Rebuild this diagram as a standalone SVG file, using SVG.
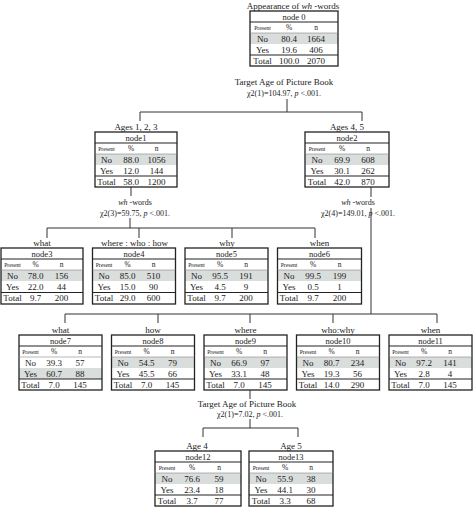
<svg xmlns="http://www.w3.org/2000/svg" width="474" height="507" viewBox="0 0 474 507">
<style>
text{font-family:"Liberation Serif","Times New Roman",serif;fill:#1a1a1a;text-anchor:middle}
.box{fill:none;stroke:#222;stroke-width:1.3}
.shade{fill:#d9dddc}
.dl{stroke:#222;stroke-width:1.1}
.tl{stroke:#888;stroke-width:0.6}
.nm{font-size:8.5px}
.pr{font-size:5.7px}
.hd{font-size:7.5px}
.v{font-size:9px}
.lb{font-size:9px}
.t9{font-size:9px}
.cs{font-size:8px}
.c{stroke:#333;stroke-width:1;fill:none}
</style>
<rect width="474" height="507" fill="#fff"/>

<g id="connectors">
<path class="c" d="M287 99V112M140 121V112H362V121"/>
<path class="c" d="M131 187V196M130 218V228M47 238V228H315V238M139 228V238M232 228V238"/>
<path class="c" d="M371 187V197M371 208V314M65 323V314H437V323M158 314V323M250 314V323M333 314V323"/>
<path class="c" d="M250 390V399M250 419V428M203 437V428H298V437"/>
<text class="t9" x="284" y="85">Target Age of Picture Book</text>
<text class="cs" x="284" y="96">χ2(1)=104.97, <tspan font-style="italic">p</tspan> &lt;.001.</text>
<text class="cs" x="135" y="205"><tspan font-style="italic">wh</tspan> -words</text>
<text class="cs" x="135" y="215.5">χ2(3)=59.75, <tspan font-style="italic">p</tspan> &lt;.001.</text>
<text class="cs" x="358" y="205"><tspan font-style="italic">wh</tspan> -words</text>
<text class="cs" x="358" y="215.5">χ2(4)=149.01, <tspan font-style="italic">p</tspan> &lt;.001.</text>
<text class="t9" x="247" y="407">Target Age of Picture Book</text>
<text class="cs" x="250" y="417">χ2(1)=7.02, <tspan font-style="italic">p</tspan> &lt;.001.</text>
</g>

<g id="node0" transform="translate(250,11)">
<text class="t9" x="43" y="-2.5">Appearance of <tspan font-style="italic">wh</tspan> -words</text>
<rect class="shade" x="0" y="22" width="88" height="11"/>
<rect class="box" x="0" y="0" width="88" height="55"/>
<line class="dl" x1="0" y1="11" x2="88" y2="11"/><line class="tl" x1="0" y1="22" x2="88" y2="22"/><line class="dl" x1="0" y1="44" x2="88" y2="44"/>
<text class="nm" x="44" y="8.5">node 0</text>
<text class="pr" x="12.5" y="19">Present</text><text class="hd" x="39" y="19">%</text><text class="hd" x="66" y="19">n</text>
<text class="v" x="12.5" y="30.8">No</text><text class="v" x="39" y="30.8">80.4</text><text class="v" x="66" y="30.8">1664</text>
<text class="v" x="12.5" y="41.8">Yes</text><text class="v" x="39" y="41.8">19.6</text><text class="v" x="66" y="41.8">406</text>
<text class="v" x="12.5" y="52.8">Total</text><text class="v" x="39" y="52.8">100.0</text><text class="v" x="66" y="52.8">2070</text>
</g>

<g id="node1" transform="translate(95,132)">
<text class="lb" x="41" y="-2">Ages 1, 2, 3</text>
<rect class="shade" x="0" y="22" width="82" height="11"/>
<rect class="box" x="0" y="0" width="82" height="55"/>
<line class="dl" x1="0" y1="11" x2="82" y2="11"/><line class="tl" x1="0" y1="22" x2="82" y2="22"/><line class="dl" x1="0" y1="44" x2="82" y2="44"/>
<text class="nm" x="41" y="8.5">node1</text>
<text class="pr" x="11.5" y="19">Present</text><text class="hd" x="36" y="19">%</text><text class="hd" x="61.5" y="19">n</text>
<text class="v" x="11.5" y="30.8">No</text><text class="v" x="36" y="30.8">88.0</text><text class="v" x="61.5" y="30.8">1056</text>
<text class="v" x="11.5" y="41.8">Yes</text><text class="v" x="36" y="41.8">12.0</text><text class="v" x="61.5" y="41.8">144</text>
<text class="v" x="11.5" y="52.8">Total</text><text class="v" x="36" y="52.8">58.0</text><text class="v" x="61.5" y="52.8">1200</text>
</g>

<g id="node2" transform="translate(305,132)">
<text class="lb" x="42" y="-2">Ages 4, 5</text>
<rect class="shade" x="0" y="22" width="84" height="11"/>
<rect class="box" x="0" y="0" width="84" height="55"/>
<line class="dl" x1="0" y1="11" x2="84" y2="11"/><line class="tl" x1="0" y1="22" x2="84" y2="22"/><line class="dl" x1="0" y1="44" x2="84" y2="44"/>
<text class="nm" x="42" y="8.5">node2</text>
<text class="pr" x="12" y="19">Present</text><text class="hd" x="37" y="19">%</text><text class="hd" x="63" y="19">n</text>
<text class="v" x="12" y="30.8">No</text><text class="v" x="37" y="30.8">69.9</text><text class="v" x="63" y="30.8">608</text>
<text class="v" x="12" y="41.8">Yes</text><text class="v" x="37" y="41.8">30.1</text><text class="v" x="63" y="41.8">262</text>
<text class="v" x="12" y="52.8">Total</text><text class="v" x="37" y="52.8">42.0</text><text class="v" x="63" y="52.8">870</text>
</g>

<g id="node3" transform="translate(1,248)">
<text class="lb" x="41" y="-2">what</text>
<rect class="shade" x="0" y="22" width="82" height="11"/>
<rect class="box" x="0" y="0" width="82" height="56"/>
<line class="dl" x1="0" y1="11" x2="82" y2="11"/><line class="tl" x1="0" y1="22" x2="82" y2="22"/><line class="dl" x1="0" y1="44.5" x2="82" y2="44.5"/>
<text class="nm" x="41" y="8.5">node3</text>
<text class="pr" x="11.5" y="19">Present</text><text class="hd" x="34.5" y="19">%</text><text class="hd" x="60.5" y="19">n</text>
<text class="v" x="11.5" y="30.8">No</text><text class="v" x="34.5" y="30.8">78.0</text><text class="v" x="60.5" y="30.8">156</text>
<text class="v" x="11.5" y="41.8">Yes</text><text class="v" x="34.5" y="41.8">22.0</text><text class="v" x="60.5" y="41.8">44</text>
<text class="v" x="11.5" y="53.3">Total</text><text class="v" x="34.5" y="53.3">9.7</text><text class="v" x="60.5" y="53.3">200</text>
</g>

<g id="node4" transform="translate(92.5,248)">
<text class="lb" x="42" y="-2">where : who : how</text>
<rect class="shade" x="0" y="22" width="83" height="11"/>
<rect class="box" x="0" y="0" width="83" height="56"/>
<line class="dl" x1="0" y1="11" x2="83" y2="11"/><line class="tl" x1="0" y1="22" x2="83" y2="22"/><line class="dl" x1="0" y1="44.5" x2="83" y2="44.5"/>
<text class="nm" x="41.5" y="8.5">node4</text>
<text class="pr" x="11.5" y="19">Present</text><text class="hd" x="35" y="19">%</text><text class="hd" x="61" y="19">n</text>
<text class="v" x="11.5" y="30.8">No</text><text class="v" x="35" y="30.8">85.0</text><text class="v" x="61" y="30.8">510</text>
<text class="v" x="11.5" y="41.8">Yes</text><text class="v" x="35" y="41.8">15.0</text><text class="v" x="61" y="41.8">90</text>
<text class="v" x="11.5" y="53.3">Total</text><text class="v" x="35" y="53.3">29.0</text><text class="v" x="61" y="53.3">600</text>
</g>

<g id="node5" transform="translate(185,248)">
<text class="lb" x="42" y="-2">why</text>
<rect class="shade" x="0" y="22" width="83" height="11"/>
<rect class="box" x="0" y="0" width="83" height="56"/>
<line class="dl" x1="0" y1="11" x2="83" y2="11"/><line class="tl" x1="0" y1="22" x2="83" y2="22"/><line class="dl" x1="0" y1="44.5" x2="83" y2="44.5"/>
<text class="nm" x="41.5" y="8.5">node5</text>
<text class="pr" x="11.5" y="19">Present</text><text class="hd" x="35" y="19">%</text><text class="hd" x="61" y="19">n</text>
<text class="v" x="11.5" y="30.8">No</text><text class="v" x="35" y="30.8">95.5</text><text class="v" x="61" y="30.8">191</text>
<text class="v" x="11.5" y="41.8">Yes</text><text class="v" x="35" y="41.8">4.5</text><text class="v" x="61" y="41.8">9</text>
<text class="v" x="11.5" y="53.3">Total</text><text class="v" x="35" y="53.3">9.7</text><text class="v" x="61" y="53.3">200</text>
</g>

<g id="node6" transform="translate(277.5,248)">
<text class="lb" x="42" y="-2">when</text>
<rect class="shade" x="0" y="22" width="84" height="11"/>
<rect class="box" x="0" y="0" width="84" height="56"/>
<line class="dl" x1="0" y1="11" x2="84" y2="11"/><line class="tl" x1="0" y1="22" x2="84" y2="22"/><line class="dl" x1="0" y1="44.5" x2="84" y2="44.5"/>
<text class="nm" x="42" y="8.5">node6</text>
<text class="pr" x="11.5" y="19">Present</text><text class="hd" x="35.5" y="19">%</text><text class="hd" x="62" y="19">n</text>
<text class="v" x="11.5" y="30.8">No</text><text class="v" x="35.5" y="30.8">99.5</text><text class="v" x="62" y="30.8">199</text>
<text class="v" x="11.5" y="41.8">Yes</text><text class="v" x="35.5" y="41.8">0.5</text><text class="v" x="62" y="41.8">1</text>
<text class="v" x="11.5" y="53.3">Total</text><text class="v" x="35.5" y="53.3">9.7</text><text class="v" x="62" y="53.3">200</text>
</g>

<g id="node7" transform="translate(19,335)">
<text class="lb" x="41.5" y="-2">what</text>
<rect class="shade" x="0" y="33" width="83" height="11"/>
<rect class="box" x="0" y="0" width="83" height="55"/>
<line class="dl" x1="0" y1="11" x2="83" y2="11"/><line class="tl" x1="0" y1="22" x2="83" y2="22"/><line class="dl" x1="0" y1="44" x2="83" y2="44"/>
<text class="nm" x="41.5" y="8.5">node7</text>
<text class="pr" x="11.5" y="19">Present</text><text class="hd" x="35" y="19">%</text><text class="hd" x="61" y="19">n</text>
<text class="v" x="11.5" y="30.8">No</text><text class="v" x="35" y="30.8">39.3</text><text class="v" x="61" y="30.8">57</text>
<text class="v" x="11.5" y="41.8">Yes</text><text class="v" x="35" y="41.8">60.7</text><text class="v" x="61" y="41.8">88</text>
<text class="v" x="11.5" y="52.8">Total</text><text class="v" x="35" y="52.8">7.0</text><text class="v" x="61" y="52.8">145</text>
</g>

<g id="node8" transform="translate(111.5,335)">
<text class="lb" x="41.5" y="-2">how</text>
<rect class="shade" x="0" y="22" width="83" height="11"/>
<rect class="box" x="0" y="0" width="83" height="55"/>
<line class="dl" x1="0" y1="11" x2="83" y2="11"/><line class="tl" x1="0" y1="22" x2="83" y2="22"/><line class="dl" x1="0" y1="44" x2="83" y2="44"/>
<text class="nm" x="41.5" y="8.5">node8</text>
<text class="pr" x="11.5" y="19">Present</text><text class="hd" x="35" y="19">%</text><text class="hd" x="61" y="19">n</text>
<text class="v" x="11.5" y="30.8">No</text><text class="v" x="35" y="30.8">54.5</text><text class="v" x="61" y="30.8">79</text>
<text class="v" x="11.5" y="41.8">Yes</text><text class="v" x="35" y="41.8">45.5</text><text class="v" x="61" y="41.8">66</text>
<text class="v" x="11.5" y="52.8">Total</text><text class="v" x="35" y="52.8">7.0</text><text class="v" x="61" y="52.8">145</text>
</g>

<g id="node9" transform="translate(204,335)">
<text class="lb" x="41.5" y="-2">where</text>
<rect class="shade" x="0" y="22" width="83" height="11"/>
<rect class="box" x="0" y="0" width="83" height="55"/>
<line class="dl" x1="0" y1="11" x2="83" y2="11"/><line class="tl" x1="0" y1="22" x2="83" y2="22"/><line class="dl" x1="0" y1="44" x2="83" y2="44"/>
<text class="nm" x="41.5" y="8.5">node9</text>
<text class="pr" x="11.5" y="19">Present</text><text class="hd" x="35" y="19">%</text><text class="hd" x="61" y="19">n</text>
<text class="v" x="11.5" y="30.8">No</text><text class="v" x="35" y="30.8">66.9</text><text class="v" x="61" y="30.8">97</text>
<text class="v" x="11.5" y="41.8">Yes</text><text class="v" x="35" y="41.8">33.1</text><text class="v" x="61" y="41.8">48</text>
<text class="v" x="11.5" y="52.8">Total</text><text class="v" x="35" y="52.8">7.0</text><text class="v" x="61" y="52.8">145</text>
</g>

<g id="node10" transform="translate(296.5,335)">
<text class="lb" x="41.5" y="-2">who:why</text>
<rect class="shade" x="0" y="22" width="83" height="11"/>
<rect class="box" x="0" y="0" width="83" height="55"/>
<line class="dl" x1="0" y1="11" x2="83" y2="11"/><line class="tl" x1="0" y1="22" x2="83" y2="22"/><line class="dl" x1="0" y1="44" x2="83" y2="44"/>
<text class="nm" x="41.5" y="8.5">node10</text>
<text class="pr" x="11.5" y="19">Present</text><text class="hd" x="35" y="19">%</text><text class="hd" x="61" y="19">n</text>
<text class="v" x="11.5" y="30.8">No</text><text class="v" x="35" y="30.8">80.7</text><text class="v" x="61" y="30.8">234</text>
<text class="v" x="11.5" y="41.8">Yes</text><text class="v" x="35" y="41.8">19.3</text><text class="v" x="61" y="41.8">56</text>
<text class="v" x="11.5" y="52.8">Total</text><text class="v" x="35" y="52.8">14.0</text><text class="v" x="61" y="52.8">290</text>
</g>

<g id="node11" transform="translate(389,335)">
<text class="lb" x="41.5" y="-2">when</text>
<rect class="shade" x="0" y="22" width="83" height="11"/>
<rect class="box" x="0" y="0" width="83" height="55"/>
<line class="dl" x1="0" y1="11" x2="83" y2="11"/><line class="tl" x1="0" y1="22" x2="83" y2="22"/><line class="dl" x1="0" y1="44" x2="83" y2="44"/>
<text class="nm" x="41.5" y="8.5">node11</text>
<text class="pr" x="11.5" y="19">Present</text><text class="hd" x="35" y="19">%</text><text class="hd" x="61" y="19">n</text>
<text class="v" x="11.5" y="30.8">No</text><text class="v" x="35" y="30.8">97.2</text><text class="v" x="61" y="30.8">141</text>
<text class="v" x="11.5" y="41.8">Yes</text><text class="v" x="35" y="41.8">2.8</text><text class="v" x="61" y="41.8">4</text>
<text class="v" x="11.5" y="52.8">Total</text><text class="v" x="35" y="52.8">7.0</text><text class="v" x="61" y="52.8">145</text>
</g>

<g id="node12" transform="translate(155,451)">
<text class="lb" x="42" y="-2">Age 4</text>
<rect class="shade" x="0" y="22" width="86" height="11"/>
<rect class="box" x="0" y="0" width="86" height="55"/>
<line class="dl" x1="0" y1="11" x2="86" y2="11"/><line class="tl" x1="0" y1="22" x2="86" y2="22"/><line class="dl" x1="0" y1="44" x2="86" y2="44"/>
<text class="nm" x="43" y="8.5">node12</text>
<text class="pr" x="12" y="19">Present</text><text class="hd" x="37" y="19">%</text><text class="hd" x="64" y="19">n</text>
<text class="v" x="12" y="30.8">No</text><text class="v" x="37" y="30.8">76.6</text><text class="v" x="64" y="30.8">59</text>
<text class="v" x="12" y="41.8">Yes</text><text class="v" x="37" y="41.8">23.4</text><text class="v" x="64" y="41.8">18</text>
<text class="v" x="12" y="52.8">Total</text><text class="v" x="37" y="52.8">3.7</text><text class="v" x="64" y="52.8">77</text>
</g>

<g id="node13" transform="translate(249,451)">
<text class="lb" x="42" y="-2">Age 5</text>
<rect class="shade" x="0" y="22" width="84" height="11"/>
<rect class="box" x="0" y="0" width="84" height="55"/>
<line class="dl" x1="0" y1="11" x2="84" y2="11"/><line class="tl" x1="0" y1="22" x2="84" y2="22"/><line class="dl" x1="0" y1="44" x2="84" y2="44"/>
<text class="nm" x="42" y="8.5">node13</text>
<text class="pr" x="12" y="19">Present</text><text class="hd" x="36" y="19">%</text><text class="hd" x="62" y="19">n</text>
<text class="v" x="12" y="30.8">No</text><text class="v" x="36" y="30.8">55.9</text><text class="v" x="62" y="30.8">38</text>
<text class="v" x="12" y="41.8">Yes</text><text class="v" x="36" y="41.8">44.1</text><text class="v" x="62" y="41.8">30</text>
<text class="v" x="12" y="52.8">Total</text><text class="v" x="36" y="52.8">3.3</text><text class="v" x="62" y="52.8">68</text>
</g>
</svg>
